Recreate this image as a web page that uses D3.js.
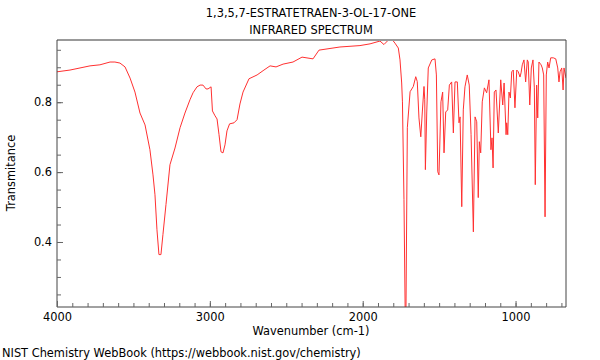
<!DOCTYPE html>
<html><head><meta charset="utf-8">
<script src="https://cdn.jsdelivr.net/npm/d3@7"></script>
<style>body{margin:0;background:#fff}svg{display:block}text{font-family:"DejaVu Sans",sans-serif;fill:#000}</style>
</head><body>
<svg id="c" width="600" height="360"></svg>
<script>
const titleLines = ["1,3,5,7-ESTRATETRAEN-3-OL-17-ONE", "INFRARED SPECTRUM"];
const xLabel = "Wavenumber (cm-1)";
const yLabel = "Transmitance";
const footer = "NIST Chemistry WebBook (https://webbook.nist.gov/chemistry)";
const xTickLabels = [4000, 3000, 2000, 1000];
const yTickLabels = [0.4, 0.6, 0.8];
const wavenumber = [4000,3915,3784,3719,3653,3621,3588,3555,3522,3490,3457,3424,3392,3372,3359,3346,3333,3320,3307,3287,3261,3228,3195,3163,3130,3110,3084,3064,3045,3025,3012,2992,2983,2966,2953,2940,2927,2914,2901,2888,2871,2842,2822,2803,2783,2744,2691,2646,2606,2567,2521,2456,2397,2325,2286,2149,2018,1952,1887,1861,1834,1805,1789,1767,1756,1745,1740,1730,1721,1717,1708,1690,1669,1653,1643,1632,1620,1610,1599,1594,1590,1581,1571,1548,1527,1518,1509,1501,1488,1477,1468,1457,1444,1433,1418,1407,1396,1381,1370,1363,1352,1342,1331,1316,1303,1291,1276,1265,1254,1244,1237,1228,1218,1204,1189,1174,1161,1154,1147,1139,1128,1113,1097,1084,1075,1062,1058,1051,1043,1034,1025,1015,1004,992,982,971,964,956,945,934,923,917,907,897,886,877,871,862,855,847,833,825,816,807,799,790,781,770,753,737,724,716,709,698,689,683,670];
const transmittance = [0.887,0.892,0.904,0.907,0.915,0.915,0.912,0.901,0.869,0.829,0.769,0.735,0.664,0.592,0.535,0.435,0.364,0.364,0.421,0.507,0.621,0.669,0.727,0.769,0.807,0.827,0.844,0.849,0.849,0.838,0.838,0.844,0.775,0.761,0.752,0.707,0.658,0.655,0.678,0.718,0.738,0.741,0.750,0.795,0.829,0.867,0.878,0.892,0.904,0.901,0.909,0.915,0.929,0.924,0.949,0.958,0.962,0.967,0.975,0.965,0.977,0.978,0.969,0.955,0.921,0.855,0.801,0.521,0.15,0.20,0.727,0.830,0.845,0.873,0.859,0.755,0.701,0.772,0.845,0.807,0.607,0.772,0.898,0.921,0.924,0.878,0.601,0.592,0.801,0.829,0.655,0.772,0.778,0.849,0.858,0.712,0.858,0.858,0.741,0.758,0.501,0.778,0.844,0.878,0.849,0.707,0.429,0.758,0.744,0.527,0.687,0.655,0.801,0.841,0.827,0.864,0.664,0.698,0.612,0.829,0.835,0.712,0.864,0.792,0.855,0.707,0.741,0.707,0.829,0.812,0.887,0.892,0.784,0.892,0.887,0.872,0.884,0.907,0.921,0.858,0.921,0.915,0.792,0.898,0.921,0.841,0.564,0.849,0.755,0.915,0.907,0.898,0.878,0.472,0.878,0.915,0.898,0.927,0.927,0.924,0.898,0.858,0.887,0.898,0.835,0.898,0.869];

const FS = 11.4;
const svg = d3.select("#c");
const L = 57, R = 566, T = 40, B = 307;
const x = d3.scaleLinear().domain([4000, 670]).range([L, R]);
const y = d3.scaleLinear().domain([0.214, 0.978]).range([B, T]);

svg.append("defs").append("clipPath").attr("id","clip")
  .append("rect").attr("x",L).attr("y",T).attr("width",R-L).attr("height",B-T);

const pts = wavenumber.map((w,i)=>[w, transmittance[i]]);
svg.append("path").datum(pts)
  .attr("clip-path","url(#clip)")
  .attr("fill","none").attr("stroke","#ff3030").attr("stroke-width",1)
  .attr("d", d3.line().x(d=>x(d[0])).y(d=>y(d[1])));

// frame
svg.append("line").attr("x1",L).attr("x2",R).attr("y1",T).attr("y2",T).attr("stroke","#999").attr("stroke-width",2);
svg.append("line").attr("x1",L).attr("x2",L).attr("y1",T).attr("y2",B).attr("stroke","#444");
svg.append("line").attr("x1",R).attr("x2",R).attr("y1",T).attr("y2",B).attr("stroke","#444");
svg.append("line").attr("x1",L).attr("x2",R).attr("y1",B).attr("y2",B).attr("stroke","#444");

// x axis (ticks inside)
const xMinor = d3.range(700, 4001, 100);
const xa = d3.axisBottom(x).tickValues(xMinor).tickSizeInner(-4).tickSizeOuter(0).tickFormat("");
const gx = svg.append("g").attr("transform",`translate(0,${B})`).call(xa);
gx.select(".domain").remove();
gx.selectAll(".tick line").attr("stroke","#666");
const xa2 = d3.axisBottom(x).tickValues(xTickLabels).tickSizeInner(-6).tickSizeOuter(0).tickPadding(6).tickFormat(d3.format("d"));
const gx2 = svg.append("g").attr("transform",`translate(0,${B})`).call(xa2);
gx2.select(".domain").remove();
gx2.selectAll(".tick line").attr("stroke","#666");
gx2.selectAll("text").attr("font-size",FS).attr("font-family","DejaVu Sans").attr("fill","#000");

// y axis
const yMinor = d3.range(0.25, 0.976, 0.05);
const ya = d3.axisLeft(y).tickValues(yMinor).tickSizeInner(-4).tickSizeOuter(0).tickFormat("");
const gy = svg.append("g").attr("transform",`translate(${L},0)`).call(ya);
gy.select(".domain").remove();
gy.selectAll(".tick line").attr("stroke","#666");
const ya2 = d3.axisLeft(y).tickValues(yTickLabels).tickSizeInner(-6).tickSizeOuter(0).tickPadding(5).tickFormat(d3.format(".1f"));
const gy2 = svg.append("g").attr("transform",`translate(${L},0)`).call(ya2);
gy2.select(".domain").remove();
gy2.selectAll(".tick line").attr("stroke","#666");
gy2.selectAll("text").attr("font-size",FS).attr("font-family","DejaVu Sans").attr("fill","#000");

// texts
svg.append("text").attr("x",311).attr("y",17).attr("text-anchor","middle").attr("font-size",FS).text(titleLines[0]);
svg.append("text").attr("x",311).attr("y",34).attr("text-anchor","middle").attr("font-size",FS).text(titleLines[1]);
svg.append("text").attr("x",311).attr("y",335).attr("text-anchor","middle").attr("font-size",FS).text(xLabel);
svg.append("text").attr("transform","translate(15,173) rotate(-90)").attr("text-anchor","middle").attr("font-size",FS).text(yLabel);
svg.append("text").attr("x",2).attr("y",357).attr("font-size",FS).text(footer);
</script>
</body></html>
